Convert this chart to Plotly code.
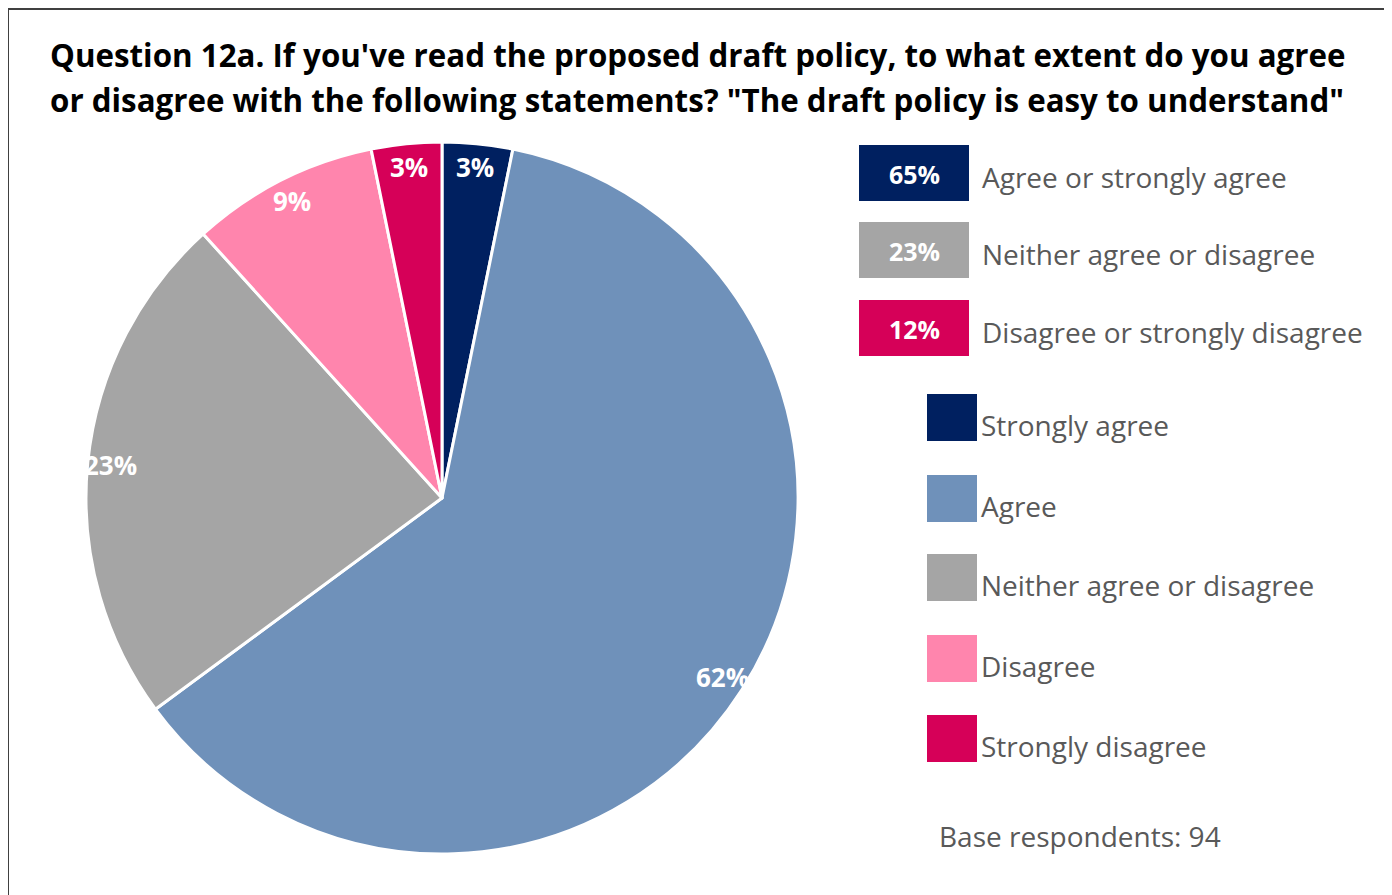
import math
import plotly.graph_objects as go

# ---- data ----
categories = ["Strongly agree", "Agree", "Neither agree or disagree", "Disagree", "Strongly disagree"]
counts = [3, 58, 22, 8, 3]  # base respondents: 94
colors = ["#002060", "#6F91BA", "#A5A5A5", "#FF85AD", "#D60058"]
summary_labels = ["Agree or strongly agree", "Neither agree or disagree", "Disagree or strongly disagree"]
summary_groups = [[0, 1], [2], [3, 4]]
summary_colors = ["#002060", "#A5A5A5", "#D60058"]
title_lines = ["Question 12a. If you've read the proposed draft policy, to what extent do you agree",
               "or disagree with the following statements? \"The draft policy is easy to understand\""]
base_text = "Base respondents: 94"

OFF = 8  # page body margin offset
W, H = 1392 - OFF, 895 - OFF
def px(x): return (x - OFF) / W
def py(y): return 1 - (y - OFF) / H

total = sum(counts)
pct = [round(100 * c / total) for c in counts]

cx, cy, R = 442, 498, 356
fig = go.Figure()
fig.add_trace(go.Pie(
    labels=categories, values=counts, sort=False, direction="clockwise", rotation=0,
    marker=dict(colors=colors, line=dict(color="white", width=3)),
    textinfo="none", hoverinfo="label+percent", showlegend=False,
    domain=dict(x=[px(cx - R), px(cx + R)], y=[py(cy + R), py(cy - R)]),
))

FONT = "Open Sans"
ann = []
cum = 0
for c, p in zip(counts, pct):
    mid = (cum + c / 2) / total * 2 * math.pi
    cum += c
    r = 0.935 * R
    x = cx + r * math.sin(mid)
    y = cy - r * math.cos(mid)
    ann.append(dict(x=px(x), y=py(y), xref="paper", yref="paper", text=f"{p}%", showarrow=False,
                    font=dict(family=FONT, size=26, color="white", weight="bold"),
                    xanchor="center", yanchor="middle"))

for i, t in enumerate(title_lines):
    ann.append(dict(x=px(697), y=py(55 + 45 * i), xref="paper", yref="paper", text=t, showarrow=False,
                    font=dict(family=FONT, size=31.3, color="black", weight="bold"),
                    xanchor="center", yanchor="middle"))

shapes = []
shapes.append(dict(type="rect", xref="paper", yref="paper", x0=px(8), x1=px(1388), y0=py(9), y1=py(910),
                   line=dict(color="#404040", width=2), fillcolor="rgba(0,0,0,0)"))

box_tops = [145, 222, 300]
for lbl, grp, col, top in zip(summary_labels, summary_groups, summary_colors, box_tops):
    v = round(100 * sum(counts[g] for g in grp) / total)
    shapes.append(dict(type="rect", xref="paper", yref="paper", x0=px(859), x1=px(969),
                       y0=py(top + 56), y1=py(top), line=dict(width=0), fillcolor=col))
    ann.append(dict(x=px(914), y=py(top + 29), xref="paper", yref="paper", text=f"{v}%", showarrow=False,
                    font=dict(family=FONT, size=25, color="white", weight="bold"),
                    xanchor="center", yanchor="middle"))
    ann.append(dict(x=px(980), y=py(top + 32), xref="paper", yref="paper", text=lbl, showarrow=False,
                    font=dict(family=FONT, size=28, color="#595959"),
                    xanchor="left", yanchor="middle"))

leg_tops = [394, 475, 554, 635, 715]
for lbl, col, top in zip(categories, colors, leg_tops):
    shapes.append(dict(type="rect", xref="paper", yref="paper", x0=px(927), x1=px(977),
                       y0=py(top + 47), y1=py(top), line=dict(width=0), fillcolor=col))
    ann.append(dict(x=px(979), y=py(top + 31), xref="paper", yref="paper", text=lbl, showarrow=False,
                    font=dict(family=FONT, size=28, color="#595959"),
                    xanchor="left", yanchor="middle"))

ann.append(dict(x=px(937), y=py(836), xref="paper", yref="paper", text=base_text, showarrow=False,
                font=dict(family=FONT, size=28, color="#595959"), xanchor="left", yanchor="middle"))

fig.update_layout(width=W, height=H, margin=dict(l=0, r=0, t=0, b=0),
                  paper_bgcolor="white", plot_bgcolor="white",
                  annotations=ann, shapes=shapes, font=dict(family=FONT))
fig.write_html("out.html")
